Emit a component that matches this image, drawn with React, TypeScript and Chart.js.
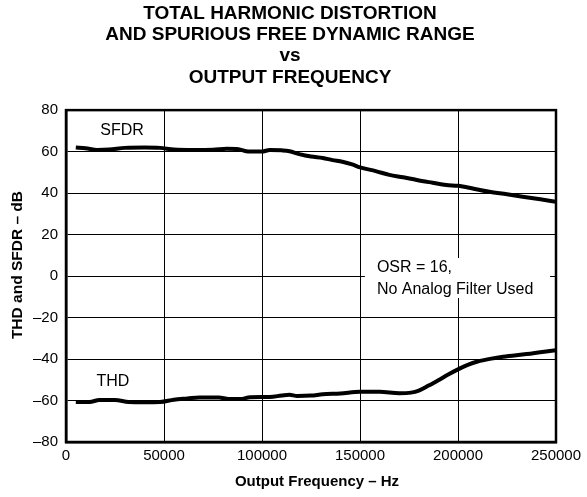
import React, { useEffect, useRef } from "react";
import { Chart, registerables } from "chart.js";

Chart.register(...registerables);

const titleLines = [
  "TOTAL HARMONIC DISTORTION",
  "AND SPURIOUS FREE DYNAMIC RANGE",
  "vs",
  "OUTPUT FREQUENCY",
];
const xAxisTitle = "Output Frequency – Hz";
const yAxisTitle = "THD and SFDR – dB";
const noteLines = ["OSR = 16,", "No Analog Filter Used"];

const sfdrFreq = [5000, 10000, 16000, 22000, 30000, 40000, 48000, 55000, 65000, 75000, 82000, 88000, 93000, 100000, 104000, 110000, 114000, 119000, 125000, 131000, 136000, 141000, 146000, 150000, 158000, 165000, 172000, 179000, 187000, 194000, 200000, 208000, 216000, 225000, 233000, 242000, 250000];
const sfdrDb = [62.0, 61.6, 60.8, 61.0, 61.8, 62.0, 61.8, 61.0, 60.8, 60.9, 61.4, 61.2, 60.0, 60.0, 60.8, 60.6, 60.2, 58.8, 57.6, 56.9, 55.9, 55.1, 53.8, 52.4, 50.6, 48.8, 47.6, 46.3, 45.0, 43.9, 43.5, 42.1, 40.6, 39.4, 38.2, 37.0, 35.8];

const thdFreq = [5000, 12000, 17000, 25000, 32000, 40000, 48000, 55000, 62000, 68000, 78000, 83000, 89000, 94000, 104000, 110000, 114000, 118000, 125000, 131000, 140000, 150000, 160000, 170000, 176000, 180000, 185000, 190000, 195000, 200000, 205000, 210000, 217000, 223000, 235000, 250000];
const thdDb = [-60.7, -60.7, -59.8, -59.8, -60.7, -60.8, -60.7, -59.6, -59.0, -58.5, -58.5, -59.3, -59.3, -58.4, -58.3, -57.6, -57.2, -57.8, -57.6, -57.0, -56.6, -55.8, -55.8, -56.5, -56.2, -55.2, -52.8, -50.2, -47.5, -45.0, -42.8, -41.2, -39.8, -38.9, -37.6, -35.7];

// series labels: [text, x value, y value]
const seriesLabels: [string, number, number][] = [
  ["SFDR", 17500, 70],
  ["THD", 15500, -51],
];
// note box extent in data units
const noteBoxX = [152500, 247000];
const noteBoxY = [8.7, -10.6];

const xMin = 0, xMax = 250000, xStep = 50000;
const yMin = -80, yMax = 80, yStep = 20;

const FONT = "'Liberation Sans', Arial, Helvetica, sans-serif";

export default function App() {
  const ref = useRef<HTMLCanvasElement | null>(null);
  useEffect(() => {
    document.body.style.margin = "0";
    const canvas = ref.current!;
    const overlay = {
      id: "overlay",
      beforeDatasetsDraw(chart: any) {
        const { ctx, scales } = chart;
        const x = scales.x, y = scales.y;
        const x0 = x.getPixelForValue(noteBoxX[0]);
        const x1 = x.getPixelForValue(noteBoxX[1]);
        const y0 = y.getPixelForValue(noteBoxY[0]);
        const y1 = y.getPixelForValue(noteBoxY[1]);
        ctx.save();
        ctx.fillStyle = "#fff";
        ctx.fillRect(x0, y0, x1 - x0, y1 - y0);
        ctx.fillStyle = "#000";
        ctx.font = `16px ${FONT}`;
        ctx.textBaseline = "alphabetic";
        ctx.textAlign = "left";
        ctx.fillText(noteLines[0], x0 + 12, y0 + 14);
        ctx.fillText(noteLines[1], x0 + 12, y0 + 35.5);
        ctx.font = `16px ${FONT}`;
        ctx.textBaseline = "middle";
        for (const [t, vx, vy] of seriesLabels) {
          ctx.fillText(t, x.getPixelForValue(vx), y.getPixelForValue(vy));
        }
        ctx.restore();
      },
      afterDraw(chart: any) {
        const { ctx, chartArea } = chart;
        ctx.save();
        ctx.strokeStyle = "#000";
        ctx.lineWidth = 2.5;
        ctx.strokeRect(chartArea.left, chartArea.top, chartArea.right - chartArea.left, chartArea.bottom - chartArea.top);
        ctx.fillStyle = "#000";
        ctx.textAlign = "center";
        ctx.textBaseline = "middle";
        ctx.font = `bold 15px ${FONT}`;
        ctx.fillText(xAxisTitle, (chartArea.left + chartArea.right) / 2 + 6, chartArea.bottom + 40);
        ctx.font = `bold 15.5px ${FONT}`;
        ctx.translate(chartArea.left - 48, (chartArea.top + chartArea.bottom) / 2 - 11);
        ctx.rotate(-Math.PI / 2);
        ctx.fillText(yAxisTitle, 0, 0);
        ctx.restore();
      },
    };
    const chart = new Chart(canvas, {
      type: "line",
      data: {
        datasets: [
          {
            label: "SFDR",
            data: sfdrFreq.map((f, i) => ({ x: f, y: sfdrDb[i] })),
            borderColor: "#000",
            borderWidth: 4,
            pointRadius: 0,
            cubicInterpolationMode: "monotone",
            fill: false,
          },
          {
            label: "THD",
            data: thdFreq.map((f, i) => ({ x: f, y: thdDb[i] })),
            borderColor: "#000",
            borderWidth: 4,
            pointRadius: 0,
            cubicInterpolationMode: "monotone",
            fill: false,
          },
        ],
      },
      options: {
        animation: false,
        responsive: true,
        maintainAspectRatio: false,
        layout: { padding: { left: 24, right: 31, top: 0, bottom: 0 } },
        plugins: {
          legend: { display: false },
          tooltip: { enabled: false },
          title: {
            display: true,
            text: titleLines,
            color: "#000",
            font: { family: FONT, size: 19, weight: "bold", lineHeight: 1.12 },
            padding: { top: 3, bottom: 22 },
          },
        },
        scales: {
          x: {
            type: "linear",
            min: xMin,
            max: xMax,
            afterFit(scale: any) {
              scale.height = 55;
            },
            ticks: {
              stepSize: xStep,
              color: "#000",
              font: { family: FONT, size: 15 },
              padding: 5,
              maxRotation: 0,
              callback: (v: any) => String(v),
            },
            grid: { color: "#000", lineWidth: 1, drawTicks: false },
            border: { color: "#000", width: 2.5 },
          },
          y: {
            type: "linear",
            min: yMin,
            max: yMax,
            afterFit(scale: any) {
              scale.width = 42;
            },
            ticks: {
              stepSize: yStep,
              color: "#000",
              font: { family: FONT, size: 15 },
              padding: 8,
              callback: (v: any) => (Number(v) < 0 ? "–" + Math.abs(Number(v)) : String(v)),
            },
            grid: { color: "#000", lineWidth: 1, drawTicks: false },
            border: { color: "#000", width: 2.5 },
          },
        },
      },
      plugins: [overlay],
    } as any);
    return () => chart.destroy();
  }, []);
  return (
    <div style={{ position: "relative", width: 587, height: 497 }}>
      <canvas ref={ref} />
    </div>
  );
}
